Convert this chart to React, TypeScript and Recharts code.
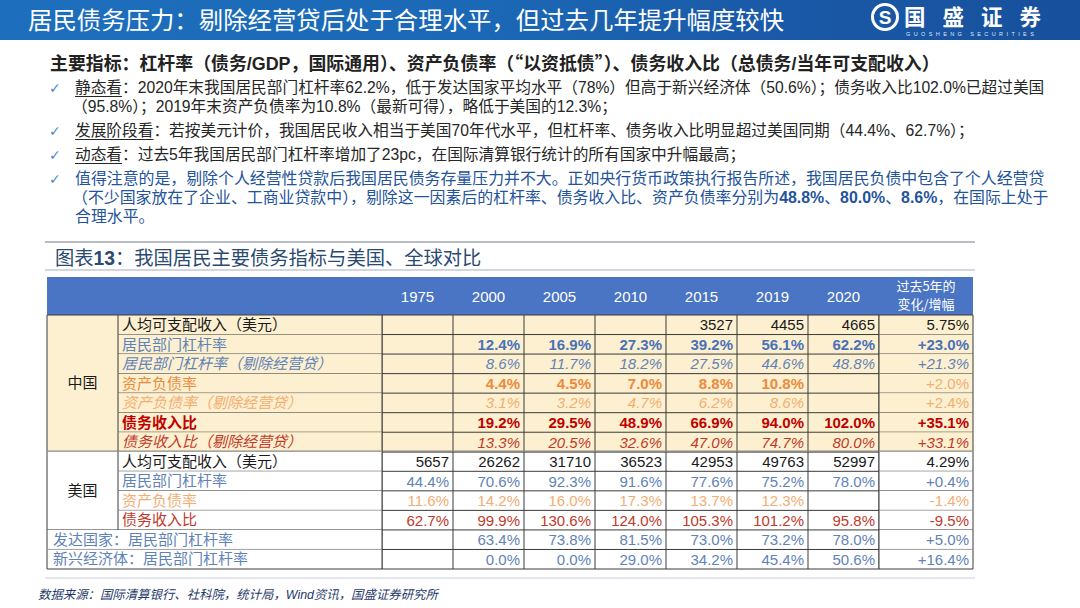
import React from 'react';
import { ScatterChart, Scatter, XAxis, YAxis } from 'recharts';

// ---------- data ----------
const years = ['1975', '2000', '2005', '2010', '2015', '2019', '2020'];
const changeHeader = ['过去5年的', '变化/增幅'];

const rowLabels = [
  '人均可支配收入（美元）',
  '居民部门杠杆率',
  '居民部门杠杆率（剔除经营贷）',
  '资产负债率',
  '资产负债率（剔除经营贷）',
  '债务收入比',
  '债务收入比（剔除经营贷）',
  '人均可支配收入（美元）',
  '居民部门杠杆率',
  '资产负债率',
  '债务收入比',
  '发达国家：居民部门杠杆率',
  '新兴经济体：居民部门杠杆率',
];
const rowGroups = ['cn', 'cn', 'cn', 'cn', 'cn', 'cn', 'cn', 'us', 'us', 'us', 'us', 'gl', 'gl'];
const groupNames: Record<string, string> = { cn: '中国', us: '美国' };
const rowKinds = ['money', 'pct', 'pct', 'pct', 'pct', 'pct', 'pct', 'money', 'pct', 'pct', 'pct', 'pct', 'pct'];

const cnIncome = [null, null, null, null, 3527, 4455, 4665];
const cnLeverage = [null, 12.4, 16.9, 27.3, 39.2, 56.1, 62.2];
const cnLeverageExBiz = [null, 8.6, 11.7, 18.2, 27.5, 44.6, 48.8];
const cnAssetLiab = [null, 4.4, 4.5, 7.0, 8.8, 10.8, null];
const cnAssetLiabExBiz = [null, 3.1, 3.2, 4.7, 6.2, 8.6, null];
const cnDebtIncome = [null, 19.2, 29.5, 48.9, 66.9, 94.0, 102.0];
const cnDebtIncomeExBiz = [null, 13.3, 20.5, 32.6, 47.0, 74.7, 80.0];
const usIncome = [5657, 26262, 31710, 36523, 42953, 49763, 52997];
const usLeverage = [44.4, 70.6, 92.3, 91.6, 77.6, 75.2, 78.0];
const usAssetLiab = [11.6, 14.2, 16.0, 17.3, 13.7, 12.3, null];
const usDebtIncome = [62.7, 99.9, 130.6, 124.0, 105.3, 101.2, 95.8];
const advLeverage = [null, 63.4, 73.8, 81.5, 73.0, 73.2, 78.0];
const emLeverage = [null, 0.0, 0.0, 29.0, 34.2, 45.4, 50.6];
const change5y = [5.75, 23.0, 21.3, 2.0, 2.4, 35.1, 33.1, 4.29, 0.4, -1.4, -9.5, 5.0, 16.4];

const rowValues = [
  cnIncome, cnLeverage, cnLeverageExBiz, cnAssetLiab, cnAssetLiabExBiz, cnDebtIncome, cnDebtIncomeExBiz,
  usIncome, usLeverage, usAssetLiab, usDebtIncome, advLeverage, emLeverage,
];

// ---------- styles ----------
const BLACK = '#1a1a1a';
const BLUE = '#4a72b8';
const BLUE_L = '#5f83b8';
const ORANGE = '#ec8a3c';
const ORANGE_L = '#f2ad74';
const RED = '#c00000';
const RED_L = '#c0392b';
type RS = { label: string; value: string; bold?: boolean; italic?: boolean; chg: string; chgBold?: boolean; chgItalic?: boolean; labelBold?: boolean; labelItalic?: boolean };
const rowStyles: RS[] = [
  { label: BLACK, value: BLACK, chg: BLACK },
  { label: BLUE_L, value: BLUE, bold: true, chg: BLUE, chgBold: true },
  { label: BLUE_L, value: BLUE_L, italic: true, labelItalic: true, chg: BLUE_L, chgItalic: true },
  { label: ORANGE, value: ORANGE, bold: true, chg: ORANGE_L },
  { label: ORANGE_L, value: ORANGE_L, italic: true, labelItalic: true, chg: ORANGE_L },
  { label: RED, value: RED, bold: true, labelBold: true, chg: RED, chgBold: true },
  { label: RED_L, value: RED_L, italic: true, labelItalic: true, chg: RED_L, chgItalic: true },
  { label: BLACK, value: BLACK, chg: BLACK },
  { label: BLUE_L, value: BLUE_L, chg: BLUE_L },
  { label: ORANGE_L, value: ORANGE_L, chg: ORANGE_L },
  { label: RED_L, value: RED_L, chg: RED_L },
  { label: BLUE_L, value: BLUE_L, chg: BLUE_L },
  { label: BLUE_L, value: BLUE_L, chg: BLUE_L },
];

const FONT = "'Liberation Sans', Arial, 'Noto Sans CJK SC', sans-serif";
const CJK = "'Noto Sans CJK SC', 'Liberation Sans', sans-serif";
const CREAM = '#fdf0d0';
const LINE = '#3a3a3a';
const SECTION_LINE = '#8a8a8a';
const HEADER_BG = '#4a74c4';

const NROWS = rowLabels.length;
const NCOLS = years.length;
const TOP = 277;
const HEADER_H = 38;
const BOTTOM_Y = 569;
const ROW_H = (BOTTOM_Y - TOP - HEADER_H) / NROWS;
const X0 = 47;
const X1 = 118;
const X2 = 382;
const X3 = 879;
const X4 = 973;
const COL_W = (X3 - X2) / NCOLS;

const fmtValue = (r: number, v: number | null) => {
  if (v === null || v === undefined) return '';
  return rowKinds[r] === 'money' ? String(v) : `${v.toFixed(1)}%`;
};
const fmtChange = (r: number) => {
  const v = change5y[r];
  if (rowKinds[r] === 'money') return `${v.toFixed(2)}%`;
  return `${v > 0 ? '+' : v < 0 ? '-' : ''}${Math.abs(v).toFixed(1)}%`;
};

const cells: { c: number; r: number }[] = [];
rowValues.forEach((vals, r) => vals.forEach((_, c) => cells.push({ c, r })));

const rowBg = (r: number) => (rowGroups[r] === 'cn' ? CREAM : '#ffffff');
const isSectionEnd = (r: number) => r < NROWS - 1 && rowGroups[r] === 'cn' && rowGroups[r + 1] !== 'cn';

// ---------- cell renderers ----------
const FillShape = (props: any) => {
  const { cx, cy, payload } = props;
  return <rect x={cx - COL_W / 2} y={cy - ROW_H / 2} width={COL_W} height={ROW_H} fill={rowBg(payload.r)} />;
};

const hLine = (x1: number, x2: number, y: number, r: number, key: string) => (
  <line key={key} x1={x1} x2={x2} y1={y} y2={y}
    stroke={isSectionEnd(r) ? SECTION_LINE : LINE} strokeWidth={isSectionEnd(r) ? 2.5 : 1} />
);

const BorderTextShape = (props: any) => {
  const { cx, cy, payload } = props;
  const { r, c } = payload;
  const st = rowStyles[r];
  const l = cx - COL_W / 2, rr = cx + COL_W / 2, t = cy - ROW_H / 2, b = cy + ROW_H / 2;
  return (
    <g>
      {r === 0 && <line x1={l} x2={rr} y1={t} y2={t} stroke={LINE} strokeWidth={1} />}
      {c === 0 && <line x1={l} x2={l} y1={t} y2={b} stroke={LINE} strokeWidth={1} />}
      <line x1={rr} x2={rr} y1={t} y2={b} stroke={LINE} strokeWidth={1} />
      {hLine(l, rr, b, r, 'b')}
      <text x={rr - 4} y={cy + 5.5} textAnchor="end" fontFamily={FONT} fontSize={15}
        fill={st.value} fontWeight={st.bold ? 700 : 400} fontStyle={st.italic ? 'italic' : 'normal'}>
        {fmtValue(r, rowValues[r][c])}
      </text>
    </g>
  );
};

const HeaderTick = (props: any) => {
  const { x, payload } = props;
  return (
    <text x={x} y={TOP + HEADER_H / 2 + 5.5} textAnchor="middle" fill="#ffffff" fontFamily={FONT} fontSize={15}>
      {years[payload.value]}
    </text>
  );
};

const LabelTick = (props: any) => {
  const { y, payload } = props;
  const r = payload.value as number;
  const g = rowGroups[r];
  const st = rowStyles[r];
  const t = y - ROW_H / 2, b = y + ROW_H / 2;
  const labelText = (x: number) => (
    <text x={x} y={y + 5.2} fontFamily={CJK} fontSize={15} fill={st.label}
      fontWeight={st.labelBold ? 700 : 400} fontStyle={st.labelItalic ? 'italic' : 'normal'}>
      {rowLabels[r]}
    </text>
  );
  if (g === 'gl') {
    return (
      <g>
        <rect x={X0} y={t} width={X2 - X0} height={ROW_H} fill={rowBg(r)} />
        <line x1={X0} x2={X0} y1={t} y2={b} stroke={LINE} />
        <line x1={X2} x2={X2} y1={t} y2={b} stroke={LINE} />
        {hLine(X0, X2, b, r, 'b')}
        {labelText(X0 + 6)}
      </g>
    );
  }
  const first = rowGroups.indexOf(g);
  const count = rowGroups.filter((q) => q === g).length;
  const last = first + count - 1;
  return (
    <g>
      {r === first && (
        <g>
          <rect x={X0} y={t} width={X1 - X0} height={ROW_H * count} fill={rowBg(r)} />
          <line x1={X0} x2={X0} y1={t} y2={t + ROW_H * count} stroke={LINE} />
          {r === 0 && <line x1={X0} x2={X1} y1={t} y2={t} stroke={LINE} />}
          {hLine(X0, X1, t + ROW_H * count, last, 'cb')}
          <text x={(X0 + X1) / 2} y={t + (ROW_H * count) / 2 + 5} textAnchor="middle" fontFamily={CJK} fontSize={15} fill={BLACK}>
            {groupNames[g]}
          </text>
        </g>
      )}
      <rect x={X1} y={t} width={X2 - X1} height={ROW_H} fill={rowBg(r)} />
      {r === 0 && <line x1={X1} x2={X2} y1={t} y2={t} stroke={LINE} />}
      <line x1={X1} x2={X1} y1={t} y2={b} stroke={LINE} />
      <line x1={X2} x2={X2} y1={t} y2={b} stroke={LINE} />
      {hLine(X1, X2, b, r, 'b')}
      {labelText(X1 + 4)}
    </g>
  );
};

const ChangeTick = (props: any) => {
  const { y, payload } = props;
  const r = payload.value as number;
  const st = rowStyles[r];
  const t = y - ROW_H / 2, b = y + ROW_H / 2;
  return (
    <g>
      {r === 0 && (
        <g>
          <text x={(X3 + X4) / 2} y={TOP + 14} textAnchor="middle" fill="#fff" fontFamily={CJK} fontSize={13}>{changeHeader[0]}</text>
          <text x={(X3 + X4) / 2} y={TOP + 32} textAnchor="middle" fill="#fff" fontFamily={CJK} fontSize={13}>{changeHeader[1]}</text>
        </g>
      )}
      <rect x={X3} y={t} width={X4 - X3} height={ROW_H} fill={rowBg(r)} />
      {r === 0 && <line x1={X3} x2={X4} y1={t} y2={t} stroke={LINE} />}
      <line x1={X3} x2={X3} y1={t} y2={b} stroke={LINE} />
      <line x1={X4} x2={X4} y1={t} y2={b} stroke={LINE} />
      {hLine(X3, X4, b, r, 'b')}
      <text x={X4 - 4} y={y + 5.5} textAnchor="end" fontFamily={FONT} fontSize={15} fill={st.chg}
        fontWeight={st.chgBold ? 700 : 400} fontStyle={st.chgItalic ? 'italic' : 'normal'}>
        {fmtChange(r)}
      </text>
    </g>
  );
};

// ---------- slide text ----------
const Check = ({ top }: { top: number }) => (
  <div style={{ position: 'absolute', left: 49, top: top - 11, height: 22, lineHeight: '22px', fontSize: 14, color: '#4a8cc8', fontFamily: "'DejaVu Sans', sans-serif" }}>✓</div>
);
const Line = ({ top, left = 75, color = '#262626', size = 15.7, weight = 400, children }: any) => (
  <div style={{ position: 'absolute', left, top: top - 11, height: 22, lineHeight: '22px', fontSize: size, color, fontWeight: weight, whiteSpace: 'nowrap', fontFamily: FONT }}>
    {children}
  </div>
);
const U = ({ children }: any) => <span style={{ textDecoration: 'underline', textUnderlineOffset: 3 }}>{children}</span>;
const TBLUE = '#23539b';

export default function App() {
  const rowTicks = rowLabels.map((_, i) => i);
  const colTicks = years.map((_, i) => i);
  return (
    <div style={{ position: 'absolute', left: 0, top: 0, width: 1080, height: 608, background: '#ffffff', overflow: 'hidden', fontFamily: FONT }}>
      {/* title bar */}
      <div style={{ position: 'absolute', left: 0, top: 0, width: 1080, height: 40, background: 'linear-gradient(90deg, #1d6fbd 0%, #1b68b6 45%, #1a5aa8 70%, #17509c 100%)' }} />
      <div style={{ position: 'absolute', left: 28, top: 2, height: 34, lineHeight: '34px', fontSize: 24.4, color: '#ffffff', fontFamily: CJK, whiteSpace: 'nowrap' }}>
        居民债务压力：剔除经营贷后处于合理水平，但过去几年提升幅度较快
      </div>
      <svg style={{ position: 'absolute', left: 868, top: 2 }} width={36} height={32}>
        <circle cx={17} cy={15} r={12.5} fill="none" stroke="#ffffff" strokeWidth={3} />
        <text x={17} y={22} textAnchor="middle" fill="#ffffff" fontFamily={FONT} fontWeight={700} fontSize={19}>S</text>
      </svg>
      <div style={{ position: 'absolute', left: 904, top: 0, height: 31, lineHeight: '31px', fontSize: 21.5, letterSpacing: 17, color: '#ffffff', fontWeight: 700, fontFamily: CJK, whiteSpace: 'nowrap' }}>
        国盛证券
      </div>
      <div style={{ position: 'absolute', left: 906, top: 31, height: 7, lineHeight: '7px', fontSize: 5.5, letterSpacing: 3.4, color: '#dfe8f5', fontFamily: FONT, whiteSpace: 'nowrap' }}>
        GUOSHENG SECURITIES
      </div>

      {/* text block */}
      <Line top={62} left={50} size={17.9} weight={700} color="#222222">
        主要指标：杠杆率（债务/GDP，国际通用）、资产负债率（<span style={{ fontFamily: CJK }}>“</span>以资抵债<span style={{ fontFamily: CJK }}>”</span>）、债务收入比（总债务/当年可支配收入）
      </Line>
      <Check top={88} />
      <Line top={88}><U>静态看</U>：2020年末我国居民部门杠杆率62.2%，低于发达国家平均水平（78%）但高于新兴经济体（50.6%）；债务收入比102.0%已超过美国</Line>
      <Line top={107} left={72}>（95.8%）；2019年末资产负债率为10.8%（最新可得），略低于美国的12.3%；</Line>
      <Check top={131} />
      <Line top={131}><U>发展阶段看</U>：若按美元计价，我国居民收入相当于美国70年代水平，但杠杆率、债务收入比明显超过美国同期（44.4%、62.7%）；</Line>
      <Check top={155} />
      <Line top={155}><U>动态看</U>：过去5年我国居民部门杠杆率增加了23pc，在国际清算银行统计的所有国家中升幅最高；</Line>
      <Check top={179} />
      <Line top={179} size={15.9} color={TBLUE}>值得注意的是，剔除个人经营性贷款后我国居民债务存量压力并不大。正如央行货币政策执行报告所述，我国居民负债中包含了个人经营贷</Line>
      <Line top={198} left={72} size={15.9} color={TBLUE}>（不少国家放在了企业、工商业贷款中），剔除这一因素后的杠杆率、债务收入比、资产负债率分别为<b>48.8%</b>、<b>80.0%</b>、<b>8.6%</b>，在国际上处于</Line>
      <Line top={217} size={15.9} color={TBLUE}>合理水平。</Line>

      {/* figure title */}
      <div style={{ position: 'absolute', left: 45, top: 241, width: 930, height: 1.5, background: '#b9bec6' }} />
      <div style={{ position: 'absolute', left: 55, top: 245, height: 24, lineHeight: '24px', fontSize: 19.3, color: '#2b4a70', fontFamily: CJK, whiteSpace: 'nowrap' }}>
        图表<b style={{ fontFamily: FONT }}>13</b>：我国居民主要债务指标与美国、全球对比
      </div>
      <div style={{ position: 'absolute', left: 45, top: 269, width: 930, height: 1.5, background: '#d3d7dd' }} />

      {/* table header band */}
      <div style={{ position: 'absolute', left: X0, top: TOP, width: X4 - X0, height: HEADER_H, background: HEADER_BG }} />

      {/* table as chart */}
      <div style={{ position: 'absolute', left: 0, top: 0 }}>
        <ScatterChart width={1080} height={608} margin={{ top: TOP, right: 1080 - X4, bottom: 608 - BOTTOM_Y, left: X0 }}>
          <XAxis xAxisId="x" type="number" dataKey="c" orientation="top" domain={[-0.5, NCOLS - 0.5]} ticks={colTicks}
            interval={0} height={HEADER_H} axisLine={false} tickLine={false} tick={<HeaderTick />} />
          <YAxis yAxisId="left" type="number" dataKey="r" domain={[-0.5, NROWS - 0.5]} ticks={rowTicks} reversed
            interval={0} width={X2 - X0} axisLine={false} tickLine={false} tick={<LabelTick />} />
          <YAxis yAxisId="right" type="number" dataKey="r" orientation="right" domain={[-0.5, NROWS - 0.5]} ticks={rowTicks} reversed
            interval={0} width={X4 - X3} axisLine={false} tickLine={false} tick={<ChangeTick />} />
          <Scatter xAxisId="x" yAxisId="left" data={cells} shape={<FillShape />} isAnimationActive={false} />
          <Scatter xAxisId="x" yAxisId="right" data={cells} shape={<BorderTextShape />} isAnimationActive={false} />
        </ScatterChart>
      </div>

      {/* bottom rule and source */}
      <div style={{ position: 'absolute', left: 45, top: 577, width: 930, height: 2, background: '#e4e8ee' }} />
      <div style={{ position: 'absolute', left: 38, top: 586, height: 18, lineHeight: '18px', fontSize: 12.4, fontStyle: 'italic', color: '#1f3a6a', fontFamily: FONT, whiteSpace: 'nowrap' }}>
        数据来源：国际清算银行、社科院，统计局，Wind资讯，国盛证券研究所
      </div>
    </div>
  );
}
